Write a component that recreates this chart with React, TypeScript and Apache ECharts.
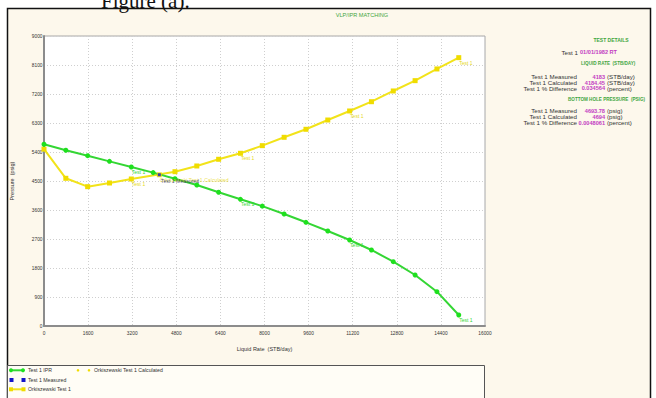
import React, { useEffect, useRef } from "react";
import * as echarts from "echarts";

// ---- data ----
const iprRates = [0, 792, 1584, 2376, 3168, 3960, 4752, 5544, 6336, 7128, 7920, 8712, 9504, 10296, 11088, 11880, 12672, 13464, 14256, 15048];
const iprPressure = [5640, 5455, 5285, 5110, 4935, 4760, 4570, 4376, 4150, 3932, 3720, 3476, 3218, 2948, 2669, 2359, 1996, 1583, 1065, 341];
const vlpRates = [0, 792, 1584, 2376, 3168, 4752, 5544, 6336, 7128, 7920, 8712, 9504, 10296, 11088, 11880, 12672, 13464, 14256, 15048];
const vlpPressure = [5490, 4584, 4324, 4438, 4562, 4789, 4966, 5174, 5360, 5597, 5856, 6105, 6393, 6673, 6961, 7294, 7614, 7977, 8328];
const labelledRates = [3168, 7128, 11088, 15048];
const measuredPoint = [4183, 4693.78];
const calculatedPoint = [4184.45, 4694];
const xMax = 16000;
const xStep = 1600;
const yMax = 9000;
const yStep = 900;

const liquidRows = [
  ["Test 1 Measured", "4183", "(STB/day)"],
  ["Test 1 Calculated", "4184.45", "(STB/day)"],
  ["Test 1 % Difference", "0.034564", "(percent)"],
];
const pressureRows = [
  ["Test 1 Measured", "4693.78", "(psig)"],
  ["Test 1 Calculated", "4694", "(psig)"],
  ["Test 1 % Difference", "0.0048061", "(percent)"],
];

const GREEN = "#34d634";
const GREEN_MK = "#1ee01e";
const YELLOW = "#f2e31a";
const YELLOW_MK = "#f0dc00";
const BLUE = "#1414c8";
const HEAD = "#3fa63f";
const MAG = "#c23cc2";
const TXT = "#333333";
const FONT = "Liberation Sans";

export default function App() {
  const ref = useRef<HTMLDivElement>(null);
  useEffect(() => {
    if (!ref.current) return;
    const chart = echarts.init(ref.current, undefined, { renderer: "svg" });

    const pointLabel = (color: string) => ({
      show: true,
      formatter: "Test 1",
      position: [3, 5],
      fontSize: 5,
      color,
      fontFamily: FONT,
    });

    const iprData = iprRates.map((r, i) =>
      labelledRates.includes(r)
        ? { value: [r, iprPressure[i]], label: pointLabel(GREEN) }
        : { value: [r, iprPressure[i]] }
    );
    const vlpData = vlpRates.map((r, i) =>
      labelledRates.includes(r)
        ? { value: [r, vlpPressure[i]], label: pointLabel("#e6d820") }
        : { value: [r, vlpPressure[i]] }
    );

    const graphics: any[] = [];
    // outer frame
    graphics.push({
      type: "rect",
      z: -100,
      shape: { x: 7.5, y: 8.5, width: 643, height: 400 },
      style: { fill: "#fdf8ec", stroke: "#111", lineWidth: 1.5 },
    });
    // cut-off document caption
    graphics.push({
      type: "text",
      z: 100,
      style: {
        text: "Figure (a).",
        x: 101,
        y: 11,
        fontSize: 21,
        fontFamily: "Liberation Serif",
        fill: "#111",
        textVerticalAlign: "bottom",
      },
    });
    // title
    graphics.push({
      type: "text",
      style: {
        text: "VLP/IPR MATCHING",
        x: 362,
        y: 15,
        fontSize: 5.6,
        fontFamily: FONT,
        fill: HEAD,
        textAlign: "center",
        textVerticalAlign: "middle",
      },
    });
    // right panel
    const txt = (text: string, x: number, y: number, fill: string, align: string, size = 6.2, weight = "normal") => ({
      type: "text",
      style: { text, x, y, fill, textAlign: align, textVerticalAlign: "middle", fontSize: size, fontFamily: FONT, fontWeight: weight },
    });
    graphics.push(txt("TEST DETAILS", 611, 40, HEAD, "center", 5, "bold"));
    graphics.push(txt("Test 1", 578, 52.3, TXT, "right"));
    graphics.push(txt("01/01/1982 RT", 580, 52.3, MAG, "left", 5.6, "bold"));
    graphics.push(txt("LIQUID RATE  (STB/DAY)", 581, 63.3, HEAD, "left", 4.6, "bold"));
    liquidRows.forEach((row, i) => {
      const y = 76.7 + i * 5.8;
      graphics.push(txt(row[0], 577, y, TXT, "right"));
      graphics.push(txt(row[1], 605, y, MAG, "right", 5.6, "bold"));
      graphics.push(txt(row[2], 607, y, TXT, "left"));
    });
    graphics.push(txt("BOTTOM HOLE PRESSURE  (PSIG)", 568, 99.3, HEAD, "left", 4.6, "bold"));
    pressureRows.forEach((row, i) => {
      const y = 110.7 + i * 6;
      graphics.push(txt(row[0], 577, y, TXT, "right"));
      graphics.push(txt(row[1], 605, y, MAG, "right", 5.6, "bold"));
      graphics.push(txt(row[2], 607, y, TXT, "left"));
    });
    // legend box
    graphics.push({
      type: "rect",
      z: -50,
      shape: { x: 7.5, y: 365.5, width: 477, height: 40 },
      style: { fill: "#fffdf6", stroke: "#555", lineWidth: 1 },
    });
    const legText = (text: string, x: number, y: number) => ({
      type: "text",
      style: { text, x, y, fill: TXT, fontSize: 5.2, fontFamily: FONT, textVerticalAlign: "middle" },
    });
    // row 1: IPR
    graphics.push({ type: "line", shape: { x1: 11, y1: 370.3, x2: 23, y2: 370.3 }, style: { stroke: GREEN, lineWidth: 2 } });
    graphics.push({ type: "circle", shape: { cx: 11, cy: 370.3, r: 2 }, style: { fill: GREEN_MK } });
    graphics.push({ type: "circle", shape: { cx: 23, cy: 370.3, r: 2 }, style: { fill: GREEN_MK } });
    graphics.push(legText("Test 1 IPR", 28, 370.3));
    // calculated
    graphics.push({ type: "circle", shape: { cx: 78, cy: 370.3, r: 1.3 }, style: { fill: YELLOW_MK } });
    graphics.push({ type: "circle", shape: { cx: 89, cy: 370.3, r: 1.3 }, style: { fill: YELLOW_MK } });
    graphics.push(legText("Orkiszewski Test 1 Calculated", 94, 370.3));
    // row 2: measured
    graphics.push({ type: "rect", shape: { x: 9.5, y: 378, width: 4, height: 4 }, style: { fill: BLUE } });
    graphics.push({ type: "rect", shape: { x: 21.5, y: 378, width: 4, height: 4 }, style: { fill: BLUE } });
    graphics.push(legText("Test 1 Measured", 28, 380));
    // row 3: VLP
    graphics.push({ type: "line", shape: { x1: 11, y1: 389.3, x2: 23.5, y2: 389.3 }, style: { stroke: YELLOW, lineWidth: 2 } });
    graphics.push({ type: "rect", shape: { x: 9, y: 387.3, width: 4, height: 4 }, style: { fill: YELLOW_MK } });
    graphics.push({ type: "rect", shape: { x: 21.5, y: 387.3, width: 4, height: 4 }, style: { fill: YELLOW_MK } });
    graphics.push(legText("Orkiszewski Test 1", 28, 389.3));

    const plain = (v: number) => String(v);

    const option: any = {
      animation: false,
      textStyle: { fontFamily: FONT },
      graphic: graphics,
      grid: {
        left: 44,
        top: 36,
        width: 441,
        height: 290,
        show: true,
        backgroundColor: "#ffffff",
        borderColor: "#a8a8a8",
        borderWidth: 1,
      },
      xAxis: {
        type: "value",
        min: 0,
        max: xMax,
        interval: xStep,
        name: "Liquid Rate  (STB/day)",
        nameLocation: "middle",
        nameGap: 20,
        nameTextStyle: { fontSize: 5.5, color: TXT, fontFamily: FONT },
        axisLine: { show: true, lineStyle: { color: "#8c8c8c", width: 2 } },
        axisTick: { show: false },
        axisLabel: { fontSize: 4.8, color: TXT, margin: 4.5, fontFamily: FONT, formatter: plain },
        splitLine: { show: true, lineStyle: { color: "#cfcfcf", type: [1, 2], width: 1 } },
      },
      yAxis: {
        type: "value",
        min: 0,
        max: yMax,
        interval: yStep,
        name: "Pressure  (psig)",
        nameLocation: "middle",
        nameRotate: 90,
        nameGap: 29,
        nameTextStyle: { fontSize: 5.5, color: TXT, fontFamily: FONT },
        axisLine: { show: true, lineStyle: { color: "#8c8c8c", width: 2 } },
        axisTick: { show: false },
        axisLabel: { fontSize: 4.8, color: TXT, margin: 1.5, fontFamily: FONT, formatter: plain },
        splitLine: { show: true, lineStyle: { color: "#cfcfcf", type: [1, 2], width: 1 } },
      },
      series: [
        {
          name: "Test 1 IPR",
          type: "line",
          data: iprData,
          symbol: "circle",
          symbolSize: 5,
          showAllSymbol: true,
          lineStyle: { color: GREEN, width: 2 },
          itemStyle: { color: GREEN_MK },
          z: 3,
        },
        {
          name: "Orkiszewski Test 1",
          type: "line",
          data: vlpData,
          symbol: "rect",
          symbolSize: 5,
          showAllSymbol: true,
          lineStyle: { color: YELLOW, width: 2 },
          itemStyle: { color: YELLOW_MK },
          z: 2,
        },
        {
          name: "Orkiszewski Test 1 Calculated",
          type: "scatter",
          data: [calculatedPoint],
          symbol: "rect",
          symbolSize: 5,
          itemStyle: { color: YELLOW_MK },
          label: {
            show: true,
            formatter: "Orkiszewski Test 1 Calculated",
            position: [3, 5],
            fontSize: 5.2,
            color: "#e8d820",
            fontFamily: FONT,
          },
          z: 4,
        },
        {
          name: "Test 1 Measured",
          type: "scatter",
          data: [measuredPoint],
          symbol: "rect",
          symbolSize: 3,
          itemStyle: { color: BLUE },
          label: {
            show: true,
            formatter: "Test 1 Measured",
            position: [3, 5],
            fontSize: 5.2,
            color: "#2b2b55",
            fontFamily: FONT,
          },
          z: 5,
        },
      ],
    };
    chart.setOption(option);
    return () => chart.dispose();
  }, []);
  return (
    <div
      ref={ref}
      style={{ position: "absolute", left: 0, top: 0, width: 656, height: 398, background: "#ffffff" }}
    />
  );
}
